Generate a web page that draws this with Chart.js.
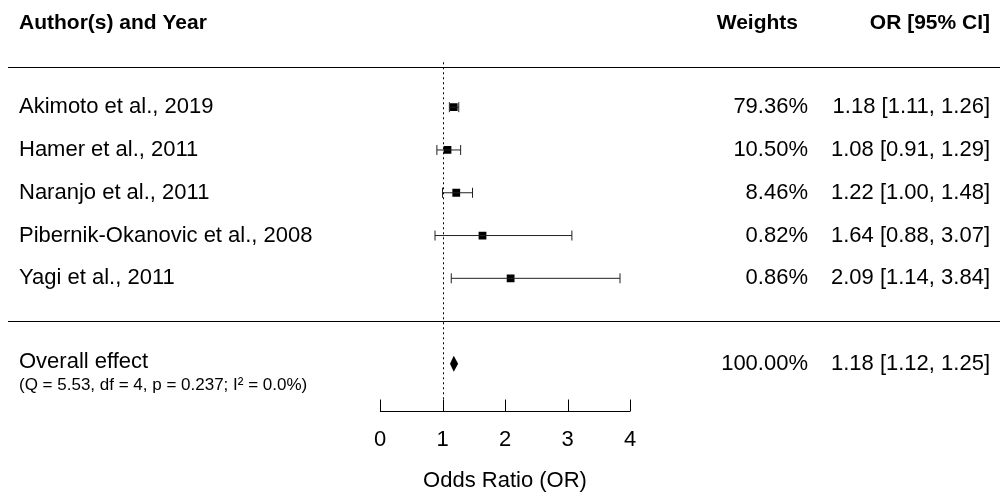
<!DOCTYPE html>
<html><head><meta charset="utf-8">
<script src="https://cdn.jsdelivr.net/npm/chart.js@4/dist/chart.umd.min.js"></script>
<style>body{margin:0;background:#fff}#wrap{width:1000px;height:499px}</style>
</head><body><div id="wrap"><canvas id="c"></canvas></div>
<script>
const studies = ['Akimoto et al., 2019', 'Hamer et al., 2011', 'Naranjo et al., 2011', 'Pibernik-Okanovic et al., 2008', 'Yagi et al., 2011']
const orValues = [1.18, 1.08, 1.22, 1.64, 2.09]
const lower = [1.11, 0.91, 1.00, 0.88, 1.14]
const upper = [1.26, 1.29, 1.48, 3.07, 3.84]
const weights = ['79.36%', '10.50%', '8.46%', '0.82%', '0.86%']
const overall = { or: 1.18, lo: 1.12, hi: 1.25, weight: '100.00%' }
const xTicks = [0, 1, 2, 3, 4]

const rows = studies.map((s, i) => i + 1)
const overallRow = 7
const fmt = v => v.toFixed(2)

const forest = {
  id: 'forest',
  afterDatasetsDraw(chart) {
    const c = chart.ctx, x = chart.scales.x, y = chart.scales.y
    const font = (s, b) => (b ? 'bold ' : '') + s + 'px "Liberation Sans", Arial, sans-serif'
    c.save()
    c.fillStyle = '#000'; c.strokeStyle = '#000'; c.textBaseline = 'middle'
    // header
    c.font = font(21, true)
    c.textAlign = 'left'; c.fillText('Author(s) and Year', 19, y.getPixelForValue(-0.97))
    c.textAlign = 'right'; c.fillText('Weights', 798, y.getPixelForValue(-0.97))
    c.fillText('OR [95% CI]', 990, y.getPixelForValue(-0.97))
    // separators
    c.lineWidth = 1
    ;[0.06, 6.0].forEach(r => {
      const p = Math.round(y.getPixelForValue(r)) + 0.5
      c.beginPath(); c.moveTo(8, p); c.lineTo(1000, p); c.stroke()
    })
    // reference line at 1
    const x1 = Math.round(x.getPixelForValue(1)) + 0.5
    c.setLineDash([2, 3])
    c.beginPath(); c.moveTo(x1, y.getPixelForValue(-0.05)); c.lineTo(x1, y.getPixelForValue(8.09)); c.stroke()
    c.setLineDash([])
    // study rows
    c.font = font(22)
    studies.forEach((s, i) => {
      const py = y.getPixelForValue(rows[i])
      c.textAlign = 'left'; c.fillText(s, 19, py)
      c.textAlign = 'right'; c.fillText(weights[i], 808, py)
      c.fillText(fmt(orValues[i]) + ' [' + fmt(lower[i]) + ', ' + fmt(upper[i]) + ']', 990, py)
      const a = x.getPixelForValue(lower[i]), b = x.getPixelForValue(upper[i])
      c.strokeStyle = '#222'
      c.beginPath(); c.moveTo(a, py); c.lineTo(b, py)
      c.moveTo(a, py - 5); c.lineTo(a, py + 5); c.moveTo(b, py - 5); c.lineTo(b, py + 5); c.stroke()
    })
    // overall
    const po = y.getPixelForValue(overallRow)
    c.textAlign = 'left'; c.fillText('Overall effect', 19, po - 2)
    c.font = font(17)
    c.fillText('(Q = 5.53, df = 4, p = 0.237; I² = 0.0%)', 19, po + 21)
    c.font = font(22); c.textAlign = 'right'
    c.fillText(overall.weight, 808, po)
    c.fillText(fmt(overall.or) + ' [' + fmt(overall.lo) + ', ' + fmt(overall.hi) + ']', 990, po)
    c.fillStyle = '#000'
    c.beginPath()
    c.moveTo(x.getPixelForValue(overall.lo), po); c.lineTo(x.getPixelForValue(overall.or), po - 8)
    c.lineTo(x.getPixelForValue(overall.hi), po); c.lineTo(x.getPixelForValue(overall.or), po + 8)
    c.closePath(); c.fill()
    // x axis
    const ay = Math.round(y.getPixelForValue(8.09)) + 0.5
    c.strokeStyle = '#000'
    c.beginPath(); c.moveTo(x.getPixelForValue(0), ay); c.lineTo(x.getPixelForValue(4), ay)
    xTicks.forEach(t => { const p = Math.round(x.getPixelForValue(t)) + 0.5; c.moveTo(p, ay); c.lineTo(p, ay - 12) })
    c.stroke()
    c.textAlign = 'center'
    xTicks.forEach(t => c.fillText(String(t), x.getPixelForValue(t), ay + 28))
    c.fillText('Odds Ratio (OR)', x.getPixelForValue(2), ay + 69)
    c.restore()
  }
}

new Chart(document.getElementById('c'), {
  type: 'scatter',
  data: {
    datasets: [{
      data: orValues.map((v, i) => ({ x: v, y: rows[i] })),
      pointStyle: 'rect', pointRadius: 5.5, pointHoverRadius: 5.5,
      backgroundColor: '#000', borderColor: '#000', borderWidth: 0
    }]
  },
  options: {
    responsive: true, maintainAspectRatio: false, animation: false,
    layout: { padding: { left: 380, right: 370, top: 0, bottom: 0 } },
    plugins: { legend: { display: false }, tooltip: { enabled: false } },
    scales: {
      x: { type: 'linear', min: 0, max: 4, display: false },
      y: { type: 'linear', min: -1.377, max: 10.03, reverse: true, display: false }
    }
  },
  plugins: [forest]
})
</script></body></html>
